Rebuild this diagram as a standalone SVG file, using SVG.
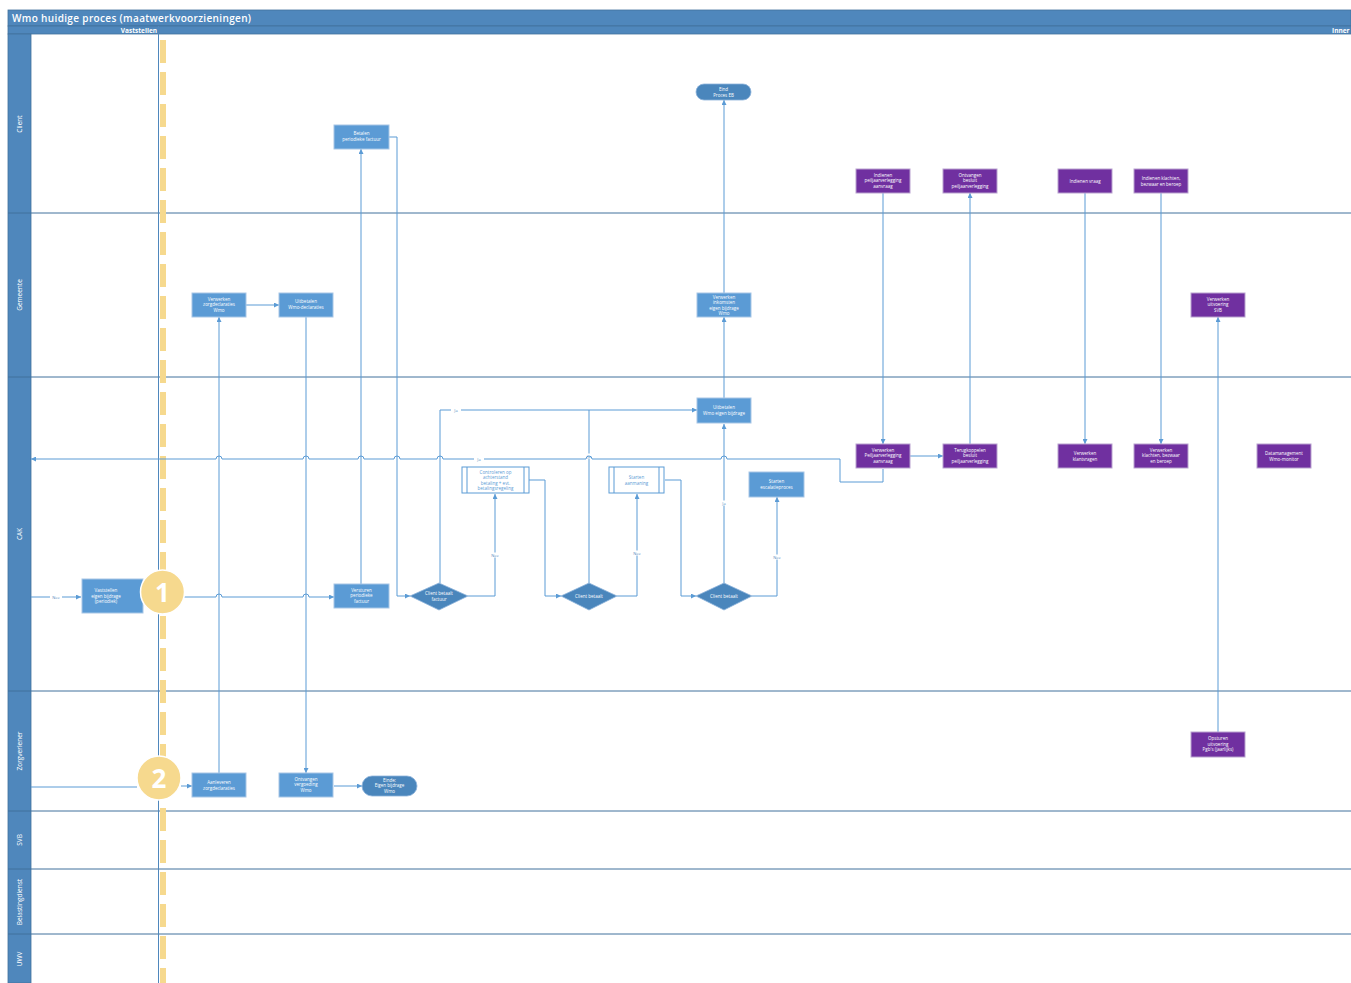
<svg xmlns="http://www.w3.org/2000/svg" width="1351" height="983" viewBox="0 0 1351 983">
<defs>
<marker id="ar" markerWidth="5" markerHeight="5" refX="5" refY="2.5" orient="auto" markerUnits="userSpaceOnUse"><path d="M0,0 L5,2.5 L0,5 z" fill="#5B9BD5"/></marker>
<style>
.hdr{fill:#4F87BC;stroke:#41719C;stroke-width:0.8}
.lane{stroke:#41719C;stroke-width:1}
.ttl{font-family:"Open Sans","Liberation Sans",sans-serif;fill:#fff}
.ln{font-family:"Open Sans","Liberation Sans",sans-serif;font-size:6.5px;fill:#fff;text-anchor:middle}
.box{fill:#5B9BD5;stroke:#A7C6E6;stroke-width:1}
.pur{fill:#7030A0;stroke:#B9A2CF;stroke-width:1}
.dk{fill:#4A86BC;stroke:#8DB3DA;stroke-width:0.8}
.sub{fill:#fff;stroke:#5B9BD5;stroke-width:1}
.t{font-family:"Open Sans","Liberation Sans",sans-serif;font-size:4.5px;fill:#fff;text-anchor:middle}
.tb{font-family:"Open Sans","Liberation Sans",sans-serif;font-size:4.5px;fill:#5B9BD5;text-anchor:middle}
.c{fill:none;stroke:#5B9BD5;stroke-width:1}
.ca{fill:none;stroke:#5B9BD5;stroke-width:1;marker-end:url(#ar)}
.lbl{font-family:"Open Sans","Liberation Sans",sans-serif;font-size:4px;fill:#4F87BC;text-anchor:middle}
.num{font-family:"Open Sans","Liberation Sans",sans-serif;font-size:26px;font-weight:bold;fill:#fff;text-anchor:middle}
</style>
</defs>
<rect width="1351" height="983" fill="#fff"/>
<g id="pool">
<rect class="hdr" x="8" y="10" width="1343" height="16"/>
<rect class="hdr" x="8" y="26" width="1343" height="8"/>
<rect class="hdr" x="8" y="34" width="23" height="949"/>
<text class="ttl" x="12" y="21.5" font-size="10" font-weight="600" letter-spacing="0.35">Wmo huidige proces (maatwerkvoorzieningen)</text>
<text class="ttl" x="157" y="32.5" font-size="6.5" font-weight="bold" text-anchor="end">Vaststellen</text>
<text class="ttl" x="1332" y="32.5" font-size="6.5" font-weight="bold">Inner</text>
<line class="lane" x1="8" y1="213" x2="1351" y2="213"/>
<line class="lane" x1="8" y1="377" x2="1351" y2="377"/>
<line class="lane" x1="8" y1="691" x2="1351" y2="691"/>
<line class="lane" x1="8" y1="811" x2="1351" y2="811"/>
<line class="lane" x1="8" y1="869" x2="1351" y2="869"/>
<line class="lane" x1="8" y1="934" x2="1351" y2="934"/>
<text class="ln" transform="translate(22,124) rotate(-90)">Client</text>
<text class="ln" transform="translate(22,295) rotate(-90)">Gemeente</text>
<text class="ln" transform="translate(22,534) rotate(-90)">CAK</text>
<text class="ln" transform="translate(22,751) rotate(-90)">Zorgverlener</text>
<text class="ln" transform="translate(22,840) rotate(-90)">SVB</text>
<text class="ln" transform="translate(22,902) rotate(-90)">Belastingdienst</text>
<text class="ln" transform="translate(22,959) rotate(-90)">UWV</text>
<line x1="158.5" y1="26" x2="158.5" y2="983" stroke="#4F87BC" stroke-width="1"/>
<line x1="163" y1="40" x2="163" y2="983" stroke="#F6D98E" stroke-width="6" stroke-dasharray="23 9"/>
</g>
<g id="connectors">
<path class="ca" d="M31,597 H81"/>
<rect x="50" y="594.5" width="12" height="5" fill="#fff"/><text class="lbl" x="56" y="598.5">Nee</text>
<path class="ca" d="M184,597 H216 a3,3 0 0 1 6,0 H303 a3,3 0 0 1 6,0 H334"/>
<path class="ca" d="M361,584 V149"/>
<path class="ca" d="M389,137 H397 V596 H410"/>
<path class="ca" d="M440,583 V410 H697"/>
<rect x="451" y="407.5" width="10" height="5" fill="#fff"/><text class="lbl" x="456" y="411.5">Ja</text>
<path class="ca" d="M468,596 H495 V494"/>
<rect x="489" y="552.5" width="12" height="5" fill="#fff"/><text class="lbl" x="495" y="556.5">Nee</text>
<path class="ca" d="M529,480 H545 V596 H561"/>
<path class="c" d="M589,583 V410"/>
<rect x="584" y="453.5" width="10" height="5" fill="#fff"/><text class="lbl" x="589" y="457.5">Ja</text>
<path class="ca" d="M617,596 H637 V494"/>
<rect x="631" y="550.5" width="12" height="5" fill="#fff"/><text class="lbl" x="637" y="554.5">Nee</text>
<path class="ca" d="M665,480 H681 V596 H696"/>
<path class="ca" d="M724,583 V424"/>
<rect x="719" y="500.5" width="10" height="5" fill="#fff"/><text class="lbl" x="724" y="504.5">Ja</text>
<path class="ca" d="M752,596 H777 V497"/>
<rect x="771" y="554.5" width="12" height="5" fill="#fff"/><text class="lbl" x="777" y="558.5">Nee</text>
<path class="ca" d="M724,398 V317"/>
<path class="ca" d="M724,293 V100"/>
<path class="ca" d="M883,469 V482 H840 V459 H727 a3,3 0 0 0 -6,0 H592 a3,3 0 0 0 -6,0 H443 a3,3 0 0 0 -6,0 H400 a3,3 0 0 0 -6,0 H364 a3,3 0 0 0 -6,0 H309 a3,3 0 0 0 -6,0 H222 a3,3 0 0 0 -6,0 H31"/>
<rect x="474" y="456.5" width="10" height="5" fill="#fff"/><text class="lbl" x="479" y="460.5">Ja</text>
<path class="ca" d="M883,193 V444"/>
<path class="ca" d="M910,456 H943"/>
<path class="ca" d="M970,444 V193"/>
<path class="ca" d="M1085,193 V444"/>
<path class="ca" d="M1161,193 V444"/>
<path class="ca" d="M1218,732 V317"/>
<path class="c" d="M31,787 H137"/>
<path class="ca" d="M181,786 H192"/>
<path class="ca" d="M219,773 V317"/>
<path class="ca" d="M246,305 H279"/>
<path class="ca" d="M306,317 V773"/>
<path class="ca" d="M334,786 H362"/>
</g>
<g id="n-betalen"><rect class="box" x="334" y="125" width="55" height="24"/><text class="t" x="361.5" y="135">Betalen</text><text class="t" x="361.5" y="141">periodieke factuur</text></g>
<g id="n-eind"><rect class="dk" x="696" y="84" width="55" height="16" rx="8"/><text class="t" x="723.5" y="91">Eind</text><text class="t" x="723.5" y="96.5">Proces EB</text></g>
<g id="n-verwzorg"><rect class="box" x="192" y="293" width="54" height="24"/><text class="t" x="219" y="300.5">Verwerken</text><text class="t" x="219" y="306">zorgdeclaraties</text><text class="t" x="219" y="311.5">Wmo</text></g>
<g id="n-uitbwmo"><rect class="box" x="279" y="293" width="54" height="24"/><text class="t" x="306" y="303">Uitbetalen</text><text class="t" x="306" y="309">Wmo-declaraties</text></g>
<g id="n-verwink"><rect class="box" x="697" y="293" width="54" height="24"/><text class="t" x="724" y="298.5">Verwerken</text><text class="t" x="724" y="304">inkomsten</text><text class="t" x="724" y="309.5">eigen bijdrage</text><text class="t" x="724" y="315">Wmo</text></g>
<g id="n-verwsvb"><rect class="pur" x="1191" y="293" width="54" height="24"/><text class="t" x="1218" y="300.5">Verwerken</text><text class="t" x="1218" y="306">uitvoering</text><text class="t" x="1218" y="311.5">SVB</text></g>
<g id="n-indpeil"><rect class="pur" x="856" y="169" width="54" height="24"/><text class="t" x="883" y="176.5">Indienen</text><text class="t" x="883" y="182">peiljaarverlegging</text><text class="t" x="883" y="187.5">aanvraag</text></g>
<g id="n-ontvbes"><rect class="pur" x="943" y="169" width="54" height="24"/><text class="t" x="970" y="176.5">Ontvangen</text><text class="t" x="970" y="182">besluit</text><text class="t" x="970" y="187.5">peiljaarverlegging</text></g>
<g id="n-indvraag"><rect class="pur" x="1058" y="169" width="54" height="24"/><text class="t" x="1085" y="182.5">Indienen vraag</text></g>
<g id="n-indklacht"><rect class="pur" x="1134" y="169" width="54" height="24"/><text class="t" x="1161" y="179.5">Indienen klachten,</text><text class="t" x="1161" y="185.5">bezwaar en beroep</text></g>
<g id="n-uitbcak"><rect class="box" x="697" y="398" width="54" height="25"/><text class="t" x="724" y="408.5">Uitbetalen</text><text class="t" x="724" y="414.5">Wmo eigen bijdrage</text></g>
<g id="n-controleren"><rect class="sub" x="462" y="467" width="67" height="26"/><line x1="467" y1="467" x2="467" y2="493" stroke="#5B9BD5"/><line x1="524" y1="467" x2="524" y2="493" stroke="#5B9BD5"/><text class="tb" x="495.5" y="473.5">Controleren op</text><text class="tb" x="495.5" y="479">achterstand</text><text class="tb" x="495.5" y="484.5">betaling + evt.</text><text class="tb" x="495.5" y="490">betalingsregeling</text></g>
<g id="n-aanmaning"><rect class="sub" x="609" y="467" width="55" height="26"/><line x1="614" y1="467" x2="614" y2="493" stroke="#5B9BD5"/><line x1="659" y1="467" x2="659" y2="493" stroke="#5B9BD5"/><text class="tb" x="636.5" y="478.5">Starten</text><text class="tb" x="636.5" y="484.5">aanmaning</text></g>
<g id="n-escalatie"><rect class="box" x="749" y="472" width="55" height="25"/><text class="t" x="776.5" y="483">Starten</text><text class="t" x="776.5" y="489">escalatieproces</text></g>
<g id="n-d1"><polygon class="dk" points="410,596 439,583 468,596 439,610"/><text class="t" x="439" y="595">Client betaalt</text><text class="t" x="439" y="600.5">factuur</text></g>
<g id="n-d2"><polygon class="dk" points="561,596 589,583 617,596 589,610"/><text class="t" x="589" y="598">Client betaalt</text></g>
<g id="n-d3"><polygon class="dk" points="696,596 724,583 752,596 724,610"/><text class="t" x="724" y="598">Client betaalt</text></g>
<g id="n-vaststellen"><rect class="box" x="82" y="579" width="61" height="34"/><text class="t" x="106" y="592">Vaststellen</text><text class="t" x="106" y="597.5">eigen bijdrage</text><text class="t" x="106" y="603">(periodiek)</text></g>
<g id="n-c1"><circle cx="162.5" cy="592" r="22" fill="#F6D98E" stroke="#fff" stroke-width="1.5"/><text class="num" x="162.5" y="601.5">1</text></g>
<g id="n-versturen"><rect class="box" x="334" y="584" width="55" height="24"/><text class="t" x="361.5" y="591.5">Versturen</text><text class="t" x="361.5" y="597">periodieke</text><text class="t" x="361.5" y="602.5">factuur</text></g>
<g id="n-verwpeil"><rect class="pur" x="856" y="444" width="54" height="24"/><text class="t" x="883" y="451.5">Verwerken</text><text class="t" x="883" y="457">Peiljaarverlegging</text><text class="t" x="883" y="462.5">aanvraag</text></g>
<g id="n-terug"><rect class="pur" x="943" y="444" width="54" height="24"/><text class="t" x="970" y="451.5">Terugkoppelen</text><text class="t" x="970" y="457">besluit</text><text class="t" x="970" y="462.5">peiljaarverlegging</text></g>
<g id="n-klantvragen"><rect class="pur" x="1058" y="444" width="54" height="24"/><text class="t" x="1085" y="454.5">Verwerken</text><text class="t" x="1085" y="460.5">klantvragen</text></g>
<g id="n-verwklacht"><rect class="pur" x="1134" y="444" width="54" height="24"/><text class="t" x="1161" y="451.5">Verwerken</text><text class="t" x="1161" y="457">klachten, bezwaar</text><text class="t" x="1161" y="462.5">en beroep</text></g>
<g id="n-datamgmt"><rect class="pur" x="1257" y="444" width="54" height="24"/><text class="t" x="1284" y="454.5">Datamanagement</text><text class="t" x="1284" y="460.5">Wmo-monitor</text></g>
<g id="n-c2"><circle cx="159" cy="778" r="22" fill="#F6D98E" stroke="#fff" stroke-width="1.5"/><text class="num" x="159" y="787.5">2</text></g>
<g id="n-aanleveren"><rect class="box" x="192" y="773" width="54" height="24"/><text class="t" x="219" y="784">Aanleveren</text><text class="t" x="219" y="790">zorgdeclaraties</text></g>
<g id="n-ontvverg"><rect class="box" x="279" y="773" width="54" height="24"/><text class="t" x="306" y="780.5">Ontvangen</text><text class="t" x="306" y="786">vergoeding</text><text class="t" x="306" y="791.5">Wmo</text></g>
<g id="n-einde"><rect class="dk" x="362" y="776" width="55" height="20" rx="10"/><text class="t" x="389.5" y="781.5">Einde:</text><text class="t" x="389.5" y="787">Eigen bijdrage</text><text class="t" x="389.5" y="792.5">Wmo</text></g>
<g id="n-opsturen"><rect class="pur" x="1191" y="732" width="54" height="25"/><text class="t" x="1218" y="740">Opsturen</text><text class="t" x="1218" y="745.5">uitvoering</text><text class="t" x="1218" y="751">Pgb's (jaarlijks)</text></g>
</svg>
